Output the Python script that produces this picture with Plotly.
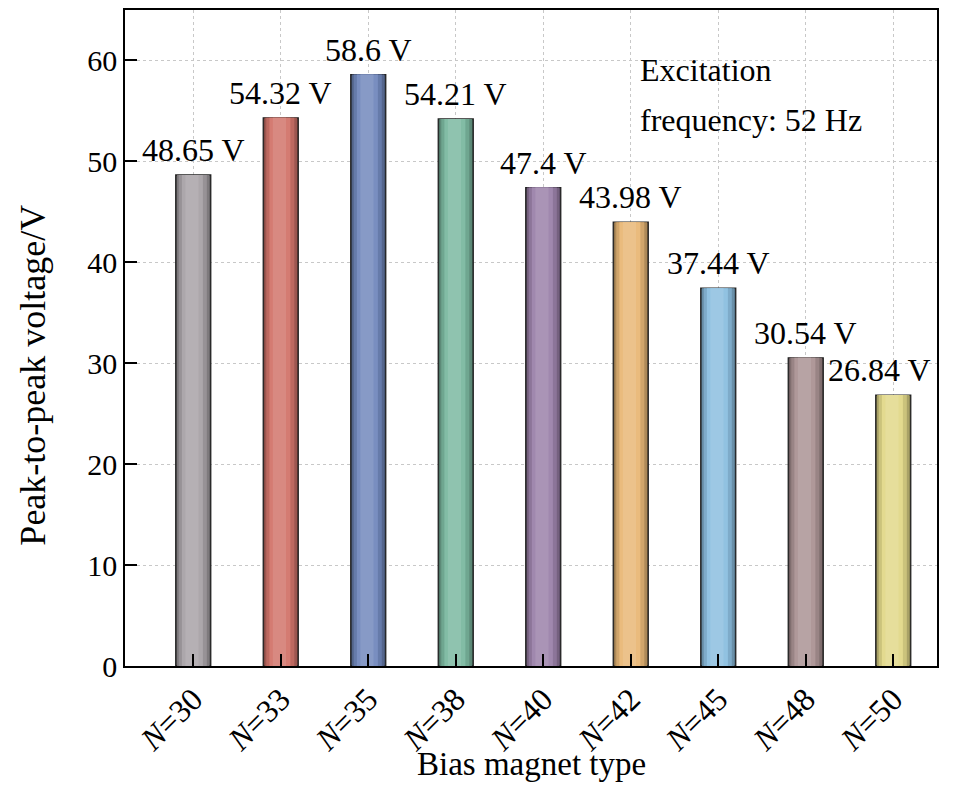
import plotly.graph_objects as go

# ---- data ----
categories = ["N=30", "N=33", "N=35", "N=38", "N=40", "N=42", "N=45", "N=48", "N=50"]
tick_labels = ["<i>N</i>=30", "<i>N</i>=33", "<i>N</i>=35", "<i>N</i>=38", "<i>N</i>=40",
               "<i>N</i>=42", "<i>N</i>=45", "<i>N</i>=48", "<i>N</i>=50"]
voltages = [48.65, 54.32, 58.6, 54.21, 47.4, 43.98, 37.44, 30.54, 26.84]
value_labels = ["48.65 V", "54.32 V", "58.6 V", "54.21 V", "47.4 V",
                "43.98 V", "37.44 V", "30.54 V", "26.84 V"]
bar_colors = ["#a8a3a7", "#d2756b", "#7289bd", "#7cb9a1", "#9c82aa",
              "#e9b877", "#8cbfe0", "#ab9394", "#e2d98a"]

FONT = "Liberation Serif, Times New Roman, serif"


def mix(hex_color, t):
    """t>0 lightens toward white, t<0 darkens toward black."""
    r, g, b = int(hex_color[1:3], 16), int(hex_color[3:5], 16), int(hex_color[5:7], 16)
    if t >= 0:
        r, g, b = [int(c + (255 - c) * t) for c in (r, g, b)]
    else:
        r, g, b = [int(c * (1 + t)) for c in (r, g, b)]
    return f"rgb({r},{g},{b})"


fig = go.Figure()

# cylinder-like shading: stacked overlays of narrowing, lighter bars
layers = [(0.40, 0.0, -0.45), (0.37, 0.0, -0.25), (0.32, -0.005, -0.10),
          (0.24, -0.01, 0.05), (0.15, -0.015, 0.15)]
for i, (w, shift, t) in enumerate(layers):
    fig.add_trace(go.Bar(
        x=categories, y=voltages,
        width=w, offset=-w / 2 + shift,
        marker=dict(color=[mix(c, t) for c in bar_colors],
                    line=dict(width=1.3 if i == 0 else 0, color="#222222")),
        showlegend=False, hoverinfo="skip" if i else "x+y",
    ))

# value labels above bars
for cat, v, lab in zip(categories, voltages, value_labels):
    fig.add_annotation(x=cat, y=v, text=lab, showarrow=False,
                       xref="x", yref="y", yanchor="bottom", yshift=5,
                       xshift=-14 if cat == "N=50" else 0,
                       font=dict(family=FONT, size=32, color="black"))

# excitation text
fig.add_annotation(x=0.632, y=0.909, xref="paper", yref="paper", text="Excitation",
                   showarrow=False, xanchor="left", yanchor="middle",
                   font=dict(family=FONT, size=32, color="black"))
fig.add_annotation(x=0.632, y=0.833, xref="paper", yref="paper", text="frequency: 52 Hz",
                   showarrow=False, xanchor="left", yanchor="middle",
                   font=dict(family=FONT, size=32, color="black"))

# axis titles
fig.add_annotation(x=-0.113, y=0.443, xref="paper", yref="paper",
                   text="Peak-to-peak voltage/V", textangle=-90, showarrow=False,
                   xanchor="center", yanchor="middle",
                   font=dict(family=FONT, size=36, color="black"))
fig.add_annotation(x=0.5, y=-0.150, xref="paper", yref="paper",
                   text="Bias magnet type", showarrow=False,
                   xanchor="center", yanchor="middle",
                   font=dict(family=FONT, size=33, color="black"))

# page body has an 8px margin, so the figure is sized to fit the window
fig.update_layout(
    width=937, height=776,
    margin=dict(l=117, r=8, t=0, b=118),
    paper_bgcolor="white", plot_bgcolor="white",
    barmode="overlay",
    font=dict(family=FONT, size=32, color="black"),
    showlegend=False,
)
fig.update_xaxes(
    range=[-0.78, 8.5],
    tickmode="array", tickvals=categories, ticktext=tick_labels,
    tickangle=-45, ticks="inside", ticklen=12, tickwidth=1.5, tickcolor="black",
    showline=True, linecolor="black", linewidth=1.5, mirror=True,
    showgrid=True, gridcolor="#c8c8c8", griddash="dot", gridwidth=1,
    tickfont=dict(family=FONT, size=32),
)
fig.update_yaxes(
    range=[0, 65], dtick=10, tick0=0,
    ticks="inside", ticklen=12, tickwidth=1.5, tickcolor="black",
    showline=True, linecolor="black", linewidth=1.5, mirror=True,
    showgrid=True, gridcolor="#c8c8c8", griddash="dot", gridwidth=1,
    zeroline=False,
    tickfont=dict(family=FONT, size=30),
)

fig.write_html("out.html")
